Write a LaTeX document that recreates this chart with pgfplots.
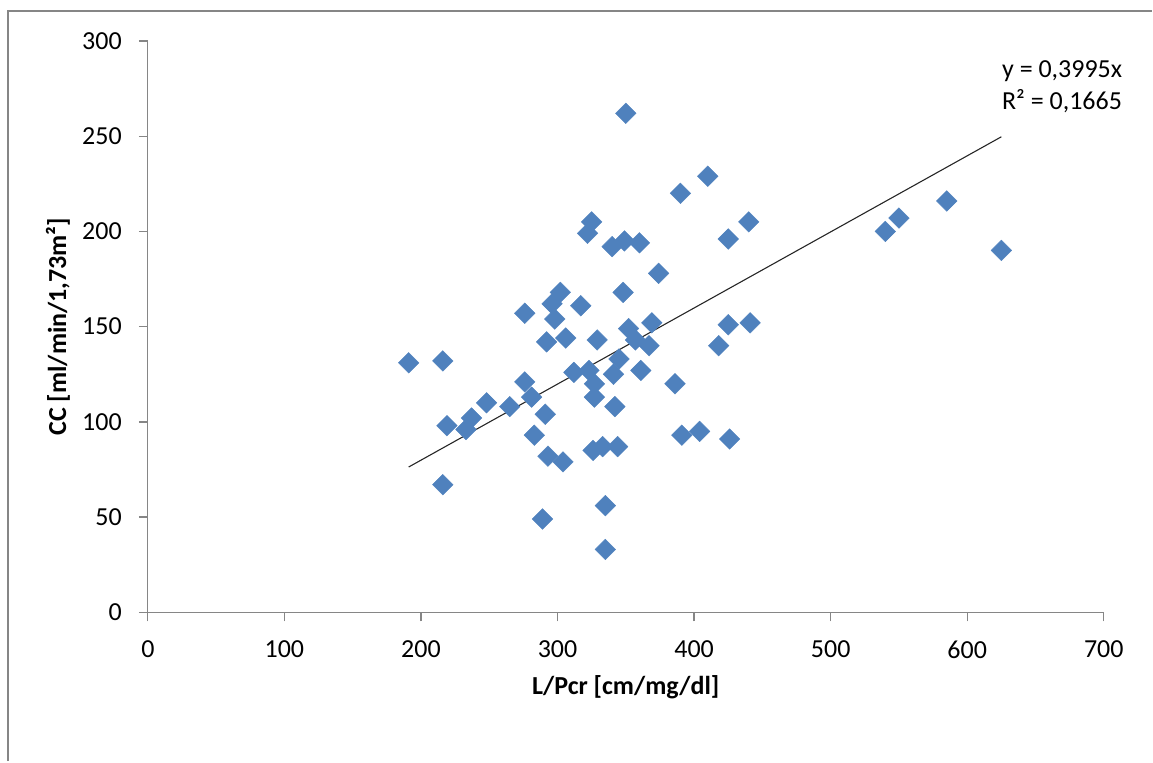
\documentclass[border=0pt]{standalone}
\usepackage{fontspec}
\setmainfont{Carlito}
\usepackage{pgfplots}
\pgfplotsset{compat=1.18}
\definecolor{mk}{RGB}{79,129,189}
\definecolor{ax}{RGB}{134,134,134}
\begin{document}
\begin{tikzpicture}
\path (0pt,0pt) rectangle (1153pt,762pt);
\draw[ax, line width=2.5pt] (8pt,0pt) -- (8pt,751pt) -- (1153pt,751pt);
\begin{axis}[
  at={(148pt,149pt)}, anchor=south west,
  scale only axis, width=957pt, height=572pt,
  xmin=0, xmax=700, ymin=0, ymax=300,
  xtick={0,100,...,700}, ytick={0,50,...,300},
  axis x line*=bottom, axis y line*=left,
  axis line style={ax, line width=1.3pt},
  tick style={ax, line width=1.3pt},
  tick align=outside, major tick length=9pt,
  font=\fontsize{26}{30}\selectfont,
  /pgf/number format/assume math mode=true,
  /pgf/number format/set thousands separator={},
  yticklabel style={font=\fontsize{26}{30}\selectfont, anchor=east, inner sep=0pt, xshift=-17pt},
  xticklabel style={font=\fontsize{26}{30}\selectfont, anchor=north, inner sep=0pt, yshift=-19pt},
  xlabel={\bfseries L/Pcr [cm/mg/dl]},
  ylabel={\bfseries CC [ml/min/1,73m²]},
  every axis x label/.style={at={(axis description cs:0.5,0)}, anchor=center, yshift=-75pt, font=\fontsize{26}{30}\selectfont},
  every axis y label/.style={at={(axis description cs:0,0.5)}, rotate=90, anchor=center, yshift=90pt, font=\fontsize{26}{30}\selectfont},
  clip=false,
]
\addplot[only marks, mark=square*, mark size=7.3pt, mark options={rotate=45, rounded corners=1.2pt}, color=mk, fill=mk] coordinates {
(191,131) (216,132) (219,98) (216,67) (233,96) (237,102) (248,110) (265,108)
(276,157) (276,121) (281,113) (283,93) (291,104) (293,82) (304,79) (289,49)
(292,142) (306,144) (329,143) (312,126) (323,127) (327,120) (327,113) (341,125)
(345,133) (342,108) (361,127) (386,120) (352,149) (369,152) (357,143) (367,140)
(326,85) (333,87) (344,87) (391,93) (404,95) (426,91) (335,56) (335,33)
(317,161) (325,205) (322,199) (340,192) (349,195) (360,194) (374,178) (348,168)
(302,168) (296,162) (298,154) (350,262) (390,220) (410,229) (440,205) (425,196)
(425,151) (441,152) (418,140) (550,207) (540,200) (585,216) (625,190)
};
\addplot[black!85, line width=1.1pt] coordinates {(191,76.30) (625,249.69)};
\end{axis}
\node[anchor=base west, inner sep=0pt, font=\fontsize{26}{30}\selectfont] at (1003pt,684pt) {y = 0,3995x};
\node[anchor=base west, inner sep=0pt, font=\fontsize{26}{30}\selectfont] at (1003pt,652pt) {R² = 0,1665};
\end{tikzpicture}
\end{document}
